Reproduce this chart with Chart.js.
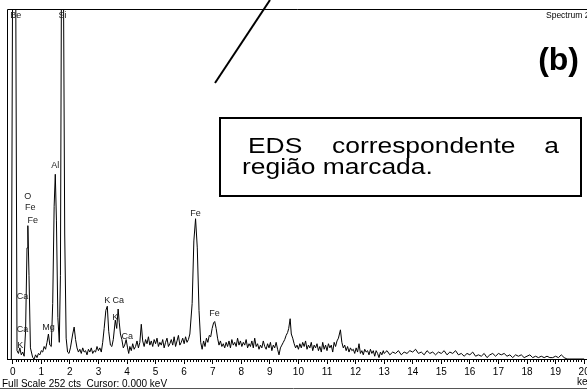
<!DOCTYPE html>
<html>
<head>
<meta charset="utf-8">
<title>EDS</title>
<script src="https://cdn.jsdelivr.net/npm/chart.js@4/dist/chart.umd.min.js"></script>
<style>
  html, body { margin: 0; padding: 0; background: #fff; }
  #wrap { position: relative; width: 587px; height: 390px; }
</style>
</head>
<body>
<div id="wrap">
  <canvas id="edsChart" width="587" height="390"></canvas>
</div>
<script>
// energy axis (keV) and its labelled ticks
const xMin = -0.2;
const xMax = 20.1;
const majorTicks = [0, 1, 2, 3, 4, 5, 6, 7, 8, 9, 10, 11, 12, 13, 14, 15, 16, 17, 18, 19, 20];
const fullScale = 252; // cts

// spectrum as [keV, counts]; the Be and Si lines run past full scale
const spectrum = [
  [-0.05, 0], [0.0, 300], [0.1, 300], [0.15, 6], [0.2, 4], [0.25, 8], [0.3, 3], [0.35, 5], [0.4, 2],
  [0.45, 20], [0.5, 80], [0.53, 96], [0.57, 60], [0.62, 8], [0.7, 1], [0.75, 0], [0.8, 3], [0.85, 1],
  [0.9, 4], [0.95, 3], [1.0, 6], [1.05, 5], [1.1, 9], [1.15, 7], [1.2, 12], [1.25, 18], [1.3, 10],
  [1.35, 9], [1.4, 40], [1.45, 110], [1.49, 133], [1.53, 100], [1.58, 30], [1.63, 12], [1.67, 60],
  [1.71, 300], [1.77, 300], [1.82, 90], [1.87, 15], [1.92, 5], [1.97, 4], [2.02, 8], [2.1, 18],
  [2.15, 23], [2.2, 14], [2.25, 8],
  [2.3, 5], [2.35, 7], [2.4, 4], [2.45, 8], [2.5, 5], [2.55, 6], [2.6, 3], [2.65, 7], [2.7, 5],
  [2.75, 8], [2.8, 4], [2.85, 6], [2.9, 5], [2.95, 9], [3.0, 6], [3.05, 8], [3.1, 5],
  [3.15, 12], [3.2, 22], [3.26, 35], [3.31, 38], [3.36, 20], [3.42, 10], [3.47, 9], [3.52, 14],
  [3.59, 28], [3.64, 22], [3.69, 36], [3.73, 26], [3.77, 18], [3.82, 14], [3.87, 8], [3.92, 10],
  [3.97, 14], [4.02, 8], [4.06, 4], [4.1, 9], [4.15, 6], [4.2, 11], [4.25, 7], [4.3, 9], [4.35, 13],
  [4.4, 8], [4.45, 12], [4.5, 25], [4.55, 13], [4.6, 9], [4.65, 14], [4.7, 11], [4.75, 16], [4.8, 10],
  [4.85, 13], [4.9, 9], [4.95, 14], [5.0, 11], [5.05, 15], [5.1, 9], [5.15, 12], [5.2, 10], [5.25, 14],
  [5.3, 8], [5.35, 12], [5.4, 15], [5.45, 9], [5.5, 11], [5.55, 14], [5.6, 10], [5.65, 16], [5.7, 9],
  [5.75, 13], [5.8, 17], [5.85, 10], [5.9, 12], [5.95, 15], [6.0, 11], [6.05, 16], [6.1, 12],
  [6.15, 14], [6.2, 18], [6.28, 40], [6.34, 85], [6.4, 101], [6.46, 80], [6.52, 35], [6.58, 12],
  [6.63, 7], [6.68, 13], [6.73, 9], [6.78, 15], [6.83, 12], [6.88, 17], [6.93, 16], [6.98, 22],
  [7.03, 26], [7.07, 27], [7.12, 22], [7.17, 15], [7.22, 10], [7.27, 13], [7.32, 9], [7.37, 11],
  [7.42, 8], [7.47, 12], [7.52, 9], [7.57, 13], [7.62, 8], [7.67, 14], [7.72, 10], [7.77, 12],
  [7.82, 9], [7.87, 15], [7.92, 10], [7.97, 13], [8.02, 9], [8.07, 12], [8.12, 10], [8.17, 14],
  [8.22, 8], [8.27, 11], [8.32, 9], [8.37, 13], [8.42, 8], [8.47, 15], [8.52, 9], [8.57, 11],
  [8.62, 7], [8.67, 10], [8.72, 8], [8.77, 13], [8.82, 9], [8.87, 7], [8.92, 11], [8.97, 8],
  [9.02, 12], [9.07, 6], [9.12, 10], [9.17, 8], [9.22, 12], [9.27, 7], [9.32, 3], [9.37, 8],
  [9.42, 10], [9.47, 12], [9.52, 14], [9.57, 17], [9.62, 19], [9.66, 22], [9.71, 29], [9.75, 18],
  [9.8, 15], [9.85, 11], [9.9, 8], [9.95, 10], [10.0, 7], [10.05, 11], [10.1, 8], [10.15, 12],
  [10.2, 9], [10.25, 13], [10.3, 7], [10.35, 10], [10.4, 8], [10.45, 12], [10.5, 6], [10.55, 10],
  [10.6, 8], [10.65, 11], [10.7, 6], [10.75, 9], [10.8, 5], [10.85, 12], [10.9, 7], [10.95, 10],
  [11.0, 6], [11.05, 11], [11.1, 8], [11.15, 10], [11.2, 5], [11.25, 12], [11.3, 9], [11.35, 13],
  [11.4, 15], [11.47, 21], [11.52, 12], [11.57, 8], [11.62, 10], [11.67, 6], [11.72, 9], [11.77, 5],
  [11.82, 8], [11.87, 6], [11.92, 7], [11.97, 4], [12.02, 8], [12.07, 5], [12.12, 11], [12.17, 4],
  [12.22, 6], [12.27, 3], [12.32, 7], [12.37, 5], [12.42, 6], [12.47, 3], [12.52, 7], [12.57, 4],
  [12.62, 6], [12.67, 2], [12.72, 6], [12.77, 4], [12.82, 1], [12.87, 5], [12.92, 3], [12.97, 6],
  [13.0, 4], [13.1, 6], [13.2, 3], [13.3, 5], [13.4, 4], [13.5, 6], [13.6, 3], [13.7, 5], [13.8, 4],
  [13.9, 6], [14.0, 5], [14.1, 7], [14.2, 4], [14.3, 5], [14.4, 3], [14.5, 6], [14.6, 4], [14.7, 5],
  [14.8, 3], [14.9, 5], [15.0, 4], [15.1, 6], [15.2, 3], [15.3, 5], [15.4, 4], [15.5, 6], [15.6, 3],
  [15.7, 4], [15.8, 2], [15.9, 4], [16.0, 3], [16.1, 5], [16.2, 2], [16.3, 3], [16.4, 2], [16.5, 4],
  [16.6, 1], [16.7, 3], [16.8, 4], [16.9, 2], [17.0, 4], [17.1, 3], [17.2, 4], [17.3, 2], [17.4, 3],
  [17.5, 1], [17.6, 3], [17.7, 2], [17.8, 3], [17.9, 1], [18.0, 2], [18.1, 3], [18.2, 1], [18.3, 2],
  [18.4, 1], [18.5, 2], [18.6, 1], [18.7, 2], [18.8, 1], [18.9, 1], [19.0, 2], [19.1, 1], [19.2, 3],
  [19.3, 1], [19.4, 0], [19.5, 0], [20.0, 0]
];

// element markers: name, line energy (keV), height of the label (cts)
const peakLabels = [
  ['Be', 0.11, 247], ['Si', 1.74, 247], ['Al', 1.49, 139],
  ['O', 0.525, 117], ['Fe', 0.615, 109], ['Fe', 0.705, 100],
  ['Ca', 0.34, 45], ['Ca', 0.34, 21], ['K', 0.26, 10], ['Mg', 1.25, 23],
  ['K', 3.31, 42], ['Ca', 3.69, 42], ['K', 3.59, 30], ['Ca', 4.01, 16],
  ['Fe', 6.40, 105], ['Fe', 7.06, 33]
];

const statusText = 'Full Scale 252 cts  Cursor: 0.000 keV';
const spectrumName = 'Spectrum 2';
const panelTag = '(b)';
const noteLines = [['EDS', 'correspondente', 'a'], ['região marcada.']];

/*
*   Frame, minor ticks, element labels and the caption box
*/
const edsDecor = {
  id: 'edsDecor',
  afterDatasetsDraw(chart) {
    const { ctx, chartArea, scales } = chart;
    const x = scales.x;
    const y = scales.y;

    ctx.save();
    ctx.strokeStyle = '#000';
    ctx.lineWidth = 1;

    // top and left frame lines
    ctx.beginPath();
    ctx.moveTo(chartArea.left + 0.5, chartArea.bottom);
    ctx.lineTo(chartArea.left + 0.5, chartArea.top + 0.5);
    ctx.lineTo(chart.width, chartArea.top + 0.5);
    ctx.stroke();

    // minor ticks every 0.1 keV
    ctx.beginPath();
    for (let i = 0; i <= 200; i++) {
      if (i % 10 === 0) continue;
      const px = Math.round(x.getPixelForValue(i / 10)) + 0.5;
      ctx.moveTo(px, chartArea.bottom);
      ctx.lineTo(px, chartArea.bottom + 3);
    }
    ctx.stroke();

    // bottom border
    ctx.strokeStyle = '#555';
    ctx.beginPath();
    ctx.moveTo(0, chart.height - 1.5);
    ctx.lineTo(chart.width, chart.height - 1.5);
    ctx.stroke();

    // element labels
    ctx.fillStyle = '#222';
    ctx.font = '9px "Liberation Sans", Arial, sans-serif';
    ctx.textAlign = 'center';
    ctx.textBaseline = 'middle';
    peakLabels.forEach(([name, kev, cts]) => {
      ctx.fillText(name, x.getPixelForValue(kev), y.getPixelForValue(cts));
    });

    // status line and units
    ctx.fillStyle = '#000';
    ctx.font = '10px "Liberation Sans", Arial, sans-serif';
    ctx.textAlign = 'left';
    ctx.fillText(statusText, 2, 384);
    ctx.fillText('keV', 577, 382);
    ctx.font = '8.5px "Liberation Sans", Arial, sans-serif';
    ctx.fillText(spectrumName, 546, 16);

    // panel tag
    ctx.font = 'bold 32px "Liberation Sans", Arial, sans-serif';
    ctx.textAlign = 'right';
    ctx.fillText(panelTag, 579, 61);

    // pointer line
    ctx.lineWidth = 2;
    ctx.strokeStyle = '#000';
    ctx.beginPath();
    ctx.moveTo(215, 83);
    ctx.lineTo(270, 0);
    ctx.stroke();

    // caption box
    ctx.fillStyle = '#fff';
    ctx.fillRect(220, 118, 361, 78);
    ctx.lineWidth = 2;
    ctx.strokeRect(220, 118, 361, 78);

    ctx.fillStyle = '#000';
    ctx.font = '22px "Liberation Sans", Arial, sans-serif';
    ctx.textBaseline = 'alphabetic';
    drawStretched(ctx, noteLines[0][0], 248, 153, 'left');
    drawStretched(ctx, noteLines[0][1], 332, 153, 'left');
    drawStretched(ctx, noteLines[0][2], 559, 153, 'right');
    drawStretched(ctx, noteLines[1][0], 242, 174, 'left');

    ctx.restore();
  }
};

/*
*   Caption text is drawn a little wider than the font
*/
function drawStretched(ctx, text, px, py, align) {
  const sx = 1.2;
  ctx.save();
  ctx.translate(px, py);
  ctx.scale(sx, 1);
  ctx.textAlign = align;
  ctx.fillText(text, 0, 0);
  ctx.restore();
}

const ctx = document.getElementById('edsChart').getContext('2d');

new Chart(ctx, {
  type: 'line',
  data: {
    datasets: [{
      data: spectrum.map(([kev, cts]) => ({ x: kev, y: cts })),
      borderColor: '#000',
      borderWidth: 1,
      pointRadius: 0,
      tension: 0,
      fill: false
    }]
  },
  options: {
    responsive: false,
    animation: false,
    devicePixelRatio: 1,
    layout: { padding: { left: 7, top: 9, right: 0, bottom: 0 } },
    plugins: {
      legend: { display: false },
      tooltip: { enabled: false }
    },
    scales: {
      x: {
        type: 'linear',
        min: xMin,
        max: xMax,
        afterBuildTicks: (scale) => {
          scale.ticks = majorTicks.map(v => ({ value: v }));
        },
        afterFit: (scale) => {
          scale.height = 31;
          scale.paddingLeft = 0;
          scale.paddingRight = 0;
        },
        ticks: {
          autoSkip: false,
          maxRotation: 0,
          padding: 2,
          color: '#000',
          font: { family: '"Liberation Sans", Arial, sans-serif', size: 10 },
          callback: (v) => String(v)
        },
        grid: {
          drawOnChartArea: false,
          drawTicks: true,
          tickLength: 5,
          color: '#000'
        },
        border: { display: true, color: '#000', width: 1 }
      },
      y: {
        display: false,
        min: 0,
        max: fullScale
      }
    }
  },
  plugins: [edsDecor]
});
</script>
</body>
</html>
